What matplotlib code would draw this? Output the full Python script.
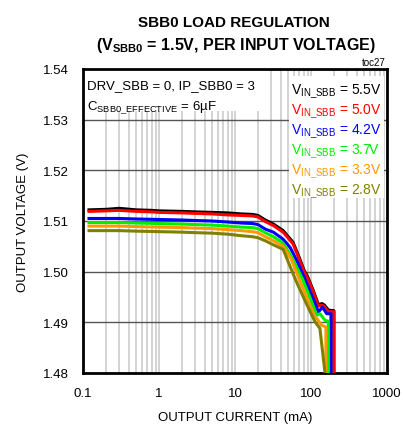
import numpy as np
import matplotlib
matplotlib.use("Agg")
import matplotlib.pyplot as plt
from matplotlib.patches import Rectangle
from matplotlib.ticker import FixedLocator, NullFormatter

plt.rcParams['font.family'] = ['Liberation Sans', 'DejaVu Sans']

# load current (mA) and output voltage (V) per input voltage
i_55 = [0.12, 0.2, 0.3, 0.5, 0.8, 1, 2, 3, 5, 8, 12, 17, 20, 25, 32, 43, 58, 70, 81, 91, 107, 125, 140, 150, 170, 200, 200]
v_55 = [1.5122, 1.5123, 1.5125, 1.5122, 1.5121, 1.5120, 1.5119, 1.5118, 1.5117, 1.5116, 1.5114, 1.5113, 1.5111, 1.5102,
        1.5094, 1.5081, 1.5058, 1.5028, 1.5003, 1.4989, 1.4963, 1.4935, 1.4937, 1.4934, 1.4924, 1.4923, 1.48]
i_50 = [0.12, 0.2, 0.3, 0.5, 0.8, 1, 2, 3, 5, 8, 12, 17, 20, 25, 32, 43, 58, 70, 81, 91, 107, 125, 140, 150, 170, 200, 200]
v_50 = [1.5119, 1.5120, 1.5121, 1.5119, 1.5118, 1.5117, 1.5116, 1.5115, 1.5114, 1.5112, 1.5111, 1.5110, 1.5108, 1.5099,
        1.5091, 1.5078, 1.5055, 1.5025, 1.5000, 1.4986, 1.4960, 1.4932, 1.4934, 1.4931, 1.4921, 1.4921, 1.48]
i_42 = [0.12, 0.2, 0.3, 0.5, 1, 2, 3, 5, 8, 12, 17, 20, 25, 32, 43, 53, 65, 83, 100, 115, 125, 141, 161, 183, 183]
v_42 = [1.5105, 1.5105, 1.5105, 1.5104, 1.5103, 1.5102, 1.5101, 1.5100, 1.5098, 1.5096, 1.5095, 1.5093, 1.5084, 1.5078,
        1.5064, 1.5048, 1.5022, 1.4986, 1.4957, 1.4935, 1.4920, 1.4930, 1.4917, 1.4917, 1.48]
i_37 = [0.12, 0.2, 0.3, 0.5, 1, 2, 3, 5, 8, 12, 17, 20, 25, 32, 43, 55, 77, 95, 119, 131, 153, 169, 169]
v_37 = [1.5097, 1.5097, 1.5097, 1.5096, 1.5095, 1.5094, 1.5093, 1.5092, 1.5090, 1.5088, 1.5087, 1.5085, 1.5077, 1.5069,
        1.5056, 1.5030, 1.4986, 1.4952, 1.4914, 1.4917, 1.4904, 1.4902, 1.48]
i_33 = [0.12, 0.2, 0.3, 0.5, 1, 2, 3, 5, 8, 12, 17, 20, 25, 32, 43, 55, 69.5, 90, 113, 119, 138, 157, 157]
v_33 = [1.5090, 1.5090, 1.5090, 1.5089, 1.5088, 1.5087, 1.5086, 1.5085, 1.5083, 1.5081, 1.5079, 1.5077, 1.5069, 1.5061,
        1.5050, 1.5025, 1.4986, 1.4945, 1.4910, 1.4908, 1.4894, 1.4891, 1.48]
i_28 = [0.12, 0.2, 0.3, 0.5, 1, 2, 3, 5, 8, 12, 17, 20, 25, 32, 43, 50, 63, 85, 113, 131, 153]
v_28 = [1.5081, 1.5081, 1.5081, 1.5080, 1.5079, 1.5078, 1.5077, 1.5076, 1.5074, 1.5071, 1.5069, 1.5067, 1.5061, 1.5053,
        1.5044, 1.5020, 1.4983, 1.4940, 1.4901, 1.4888, 1.4800]

series = [(i_55, v_55, "5.5V", "#000000"),
          (i_50, v_50, "5.0V", "#ff0000"),
          (i_42, v_42, "4.2V", "#0000ff"),
          (i_37, v_37, "3.7V", "#00ee00"),
          (i_33, v_33, "3.3V", "#ff9900"),
          (i_28, v_28, "2.8V", "#808000")]

x_ticks = [0.1, 1, 10, 100, 1000]
x_ticklabels = ["0.1", "1", "10", "100", "1000"]
y_ticks = [1.48, 1.49, 1.50, 1.51, 1.52, 1.53, 1.54]
y_ticklabels = ["1.48", "1.49", "1.50", "1.51", "1.52", "1.53", "1.54"]

W, H = 403, 427
fig = plt.figure(figsize=(W / 100, H / 100), dpi=100)
L, R, T, B = 83, 387, 70, 374
ax = fig.add_axes([L / W, 1 - B / H, (R - L) / W, (B - T) / H])


def fx(px):
    return px / W


def fy(py):
    return 1 - py / H


ax.set_xscale("log")
ax.set_xlim(0.1, 1000)
ax.set_ylim(1.48, 1.54)
ax.set_axisbelow(True)

minors = [m * 10.0 ** e for e in range(-1, 3) for m in range(2, 10)]
ax.xaxis.set_minor_locator(FixedLocator(minors))
ax.xaxis.set_minor_formatter(NullFormatter())
ax.set_xticks(x_ticks)
ax.set_xticklabels(x_ticklabels)
ax.set_yticks(y_ticks)
ax.set_yticklabels(y_ticklabels)
ax.tick_params(which="both", length=0, labelsize=9.5, pad=10)
ax.grid(True, axis="x", which="both", color="#c8c8c8", lw=1.1)
ax.grid(True, axis="y", which="major", color="#555555", lw=1.0)

for sp in ax.spines.values():
    sp.set_linewidth(2)
    sp.set_color("black")

# white areas behind the annotation and the legend text
ax.add_patch(Rectangle((0, (B - 112) / (B - T)), (265 - L) / (R - L), (112 - T) / (B - T),
                       transform=ax.transAxes, facecolor="white", edgecolor="none", zorder=1))
ax.add_patch(Rectangle(((289 - L) / (R - L), (B - 199) / (B - T)), (384 - 289) / (R - L), (199 - 77) / (B - T),
                       transform=ax.transAxes, facecolor="white", edgecolor="none", zorder=1))

for xs, ys, lab, col in series:
    ax.plot(xs, ys, color=col, lw=2.2, zorder=3)

# legend as coloured text
for k, (xs, ys, lab, col) in enumerate(series):
    fig.text(fx(291), fy(95 + 20 * k), r"$\mathregular{V_{IN\_SBB}}$ = " + lab,
             color=col, fontsize=10, va="baseline", ha="left")

fig.text(fx(87), fy(89), "DRV_SBB = 0, IP_SBB0 = 3", fontsize=9.5, va="baseline")
fig.text(fx(87), fy(110), r"$\mathregular{C_{SBB0\_EFFECTIVE}}$ = 6µF", fontsize=9.5, va="baseline")

fig.text(fx(386), fy(66), "toc27", fontsize=7, ha="right", va="baseline")

fig.text(fx(234), fy(27), "SBB0 LOAD REGULATION", fontsize=11, fontweight="bold", ha="center", va="baseline")
fig.text(fx(236), fy(50), r"($\mathregular{V_{SBB0}}$ = 1.5V, PER INPUT VOLTAGE)", fontsize=11.5,
         fontweight="bold", ha="center", va="baseline")

fig.text(fx(235), fy(418), "OUTPUT CURRENT (mA)", fontsize=9.5, ha="center", va="center")
fig.text(fx(23), fy(222), "OUTPUT VOLTAGE (V)", fontsize=9.5, ha="center", va="center", rotation=90)

fig.savefig("out.png", dpi=100)
